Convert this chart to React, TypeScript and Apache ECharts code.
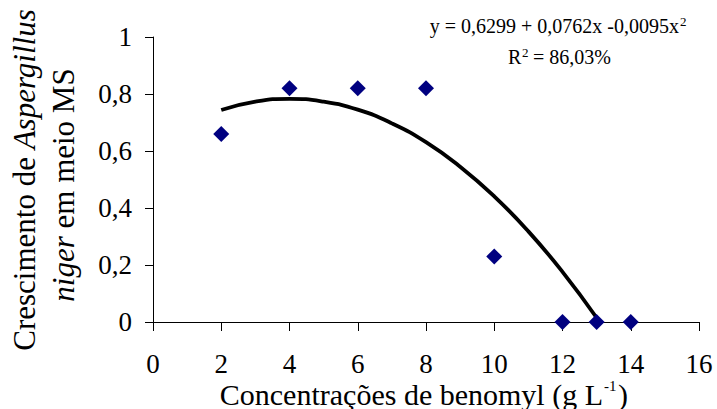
import React, { useEffect, useRef } from "react";
import * as echarts from "echarts";

const concentrations = [2, 4, 6, 8, 10, 12, 13, 14];
const growth = [0.66, 0.82, 0.82, 0.82, 0.23, 0, 0, 0];

// Trend curve values
const curveX = [2, 3, 4, 5, 6, 7, 8, 9, 10, 11, 12, 13];
const curveY = [0.744, 0.773, 0.783, 0.773, 0.745, 0.697, 0.631, 0.545, 0.441, 0.318, 0.176, 0.015];

const xTicks = { min: 0, max: 16, interval: 2 };
const yTicks = { min: 0, max: 1, interval: 0.2 };

const FONT = "Liberation Serif";

export default function App() {
  const ref = useRef<HTMLDivElement>(null);
  useEffect(() => {
    if (!ref.current) return;
    const chart = echarts.init(ref.current, undefined, { renderer: "svg" });
    const n = (size: number) => ({ fontSize: size, fontFamily: FONT, color: "#000" });
    const txt = (x: number, y: number, text: string, size: number, align = "left", extra: any = {}) => ({
      type: "text",
      x,
      y,
      style: { text, ...n(size), align, verticalAlign: "middle", ...extra },
    });
    const option: any = {
      animation: false,
      backgroundColor: "#fff",
      textStyle: { fontFamily: FONT },
      grid: { left: 153, right: 18, top: 37, bottom: 87, containLabel: false },
      xAxis: {
        type: "value",
        min: xTicks.min,
        max: xTicks.max,
        interval: xTicks.interval,
        splitLine: { show: false },
        axisLine: { lineStyle: { color: "#000", width: 1 } },
        axisTick: { show: true, length: 9, lineStyle: { color: "#000" } },
        axisLabel: { color: "#000", fontFamily: FONT, fontSize: 27, margin: 28 },
      },
      yAxis: {
        type: "value",
        min: yTicks.min,
        max: yTicks.max,
        interval: yTicks.interval,
        splitLine: { show: false },
        axisLine: { show: true, lineStyle: { color: "#000", width: 1 } },
        axisTick: { show: true, length: 8, lineStyle: { color: "#000" } },
        axisLabel: {
          color: "#000",
          fontFamily: FONT,
          fontSize: 27,
          margin: 21,
          formatter: (v: number) => String(Math.round(v * 10) / 10).replace(".", ","),
        },
      },
      series: [
        {
          type: "line",
          data: curveX.map((x, i) => [x, curveY[i]]),
          smooth: true,
          showSymbol: false,
          lineStyle: { color: "#000", width: 3.8 },
          z: 2,
        },
        {
          type: "scatter",
          data: concentrations.map((x, i) => [x, growth[i]]),
          symbol: "diamond",
          symbolSize: 16,
          itemStyle: { color: "#000080", opacity: 1 },
          z: 3,
        },
      ],
      graphic: [
        {
          type: "text",
          x: 24,
          y: 180,
          rotation: Math.PI / 2,
          style: {
            text: "{n|Crescimento de }{i|Aspergillus}",
            align: "center",
            verticalAlign: "middle",
            rich: { n: n(31), i: { ...n(31), fontStyle: "italic" } },
          },
        },
        {
          type: "text",
          x: 63,
          y: 185,
          rotation: Math.PI / 2,
          style: {
            text: "{i|niger}{n| em meio MS}",
            align: "center",
            verticalAlign: "middle",
            rich: { n: n(31), i: { ...n(31), fontStyle: "italic" } },
          },
        },
        txt(603, 394, "Concentrações de benomyl (g L", 30, "right"),
        txt(604, 386, "-1", 15, "left"),
        txt(618, 394, ")", 30, "left"),
        txt(679, 26, "y = 0,6299 + 0,0762x -0,0095x", 20, "right"),
        txt(680, 21, "2", 13, "left"),
        txt(508, 57, "R", 20, "left"),
        txt(522, 52, "2", 13, "left"),
        txt(528, 57, " = 86,03%", 20, "left"),
      ],
    };
    chart.setOption(option);
    return () => chart.dispose();
  }, []);
  return <div ref={ref} style={{ width: 717, height: 409, position: "absolute", left: 0, top: 0 }} />;
}
